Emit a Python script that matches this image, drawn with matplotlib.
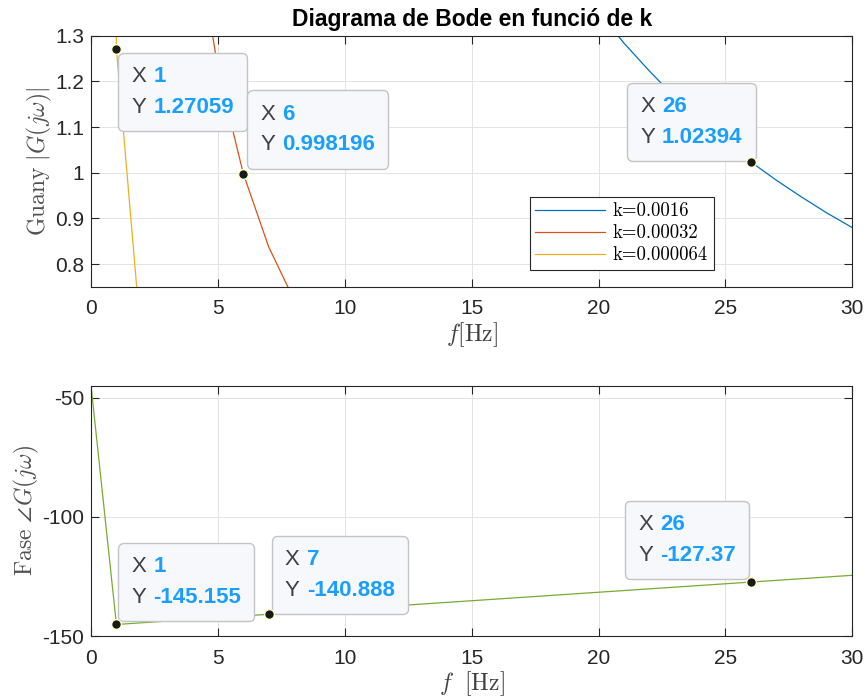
import numpy as np
import matplotlib
matplotlib.use("Agg")
import matplotlib.pyplot as plt
from matplotlib.offsetbox import TextArea, HPacker, VPacker, AnnotationBbox

plt.rcParams['font.family'] = ['Liberation Sans', 'DejaVu Sans']
plt.rcParams['mathtext.fontset'] = 'cm'
plt.rcParams['axes.unicode_minus'] = False

# gain curves
f_k1 = [20, 21, 22, 23, 24, 25, 26, 27, 28, 29, 30]
g_k1 = [1.352, 1.284, 1.223, 1.166, 1.115, 1.067, 1.02394, 0.984, 0.947, 0.912, 0.880]
f_k2 = [4, 5, 6, 7, 8]
g_k2 = [1.58, 1.227, 0.998196, 0.838, 0.722]
f_k3 = [0, 1, 2]
g_k3 = [40.0, 1.27059, 0.62]
labels = ["k=0.0016", "k=0.00032", "k=0.000064"]

# phase curve
f_ph = list(range(0, 31))
phase = [-45.0, -145.155, -144.44, -143.73, -143.02, -142.31, -141.60, -140.888,
         -140.18, -139.47, -138.76, -138.05, -137.33, -136.62, -135.91, -135.20,
         -134.49, -133.78, -133.07, -132.35, -131.64, -130.93, -130.22, -129.51,
         -128.80, -128.08, -127.37, -126.66, -125.95, -125.24, -124.53]

# datatips
tips_gain = [(1, 1.27059, "1", "1.27059"), (6, 0.998196, "6", "0.998196"),
             (26, 1.02394, "26", "1.02394")]
tips_phase = [(1, -145.155, "1", "-145.155"), (7, -140.888, "7", "-140.888"),
              (26, -127.37, "26", "-127.37")]

TXT = '#262626'
GRID = '#e3e3e3'


def style_axes(ax):
    ax.grid(True, color=GRID, linewidth=0.7)
    ax.set_axisbelow(True)
    ax.tick_params(direction='in', top=True, right=True, labelsize=15,
                   colors=TXT, length=6, width=0.8)
    ax.tick_params(axis='x', pad=9)
    ax.tick_params(axis='y', pad=5)
    for s in ax.spines.values():
        s.set_color(TXT)
        s.set_linewidth(0.8)


def datatip(ax, x, y, xs, ys, offset, align):
    rows = []
    for name, val in [("X", xs), ("Y", ys)]:
        a = TextArea(name, textprops=dict(color='#404040', fontsize=16))
        b = TextArea(val, textprops=dict(color='#1a9fff', fontsize=16, fontweight='bold'))
        rows.append(HPacker(children=[a, b], pad=0, sep=5, align='baseline'))
    box = VPacker(children=rows, pad=9.5, sep=7, align='left')
    ab = AnnotationBbox(box, (x, y), xybox=offset, boxcoords='offset points',
                        box_alignment=align, frameon=True, pad=0,
                        bboxprops=dict(boxstyle='round,pad=0,rounding_size=0.4',
                                       facecolor='#f7f8fc', edgecolor='#c4c4c4',
                                       linewidth=1.0))
    ax.add_artist(ab)
    ax.plot(x, y, 'o', color='#1a1a1a', markersize=7, mec='#ffffc8', mew=1.0, zorder=5)


fig = plt.figure(figsize=(8.67, 7.0), dpi=100)
ax1 = fig.add_axes([0.105, 0.59, 0.878, 0.359])
ax2 = fig.add_axes([0.105, 0.0914, 0.878, 0.3576])

ax1.plot(f_k1, g_k1, color='#0072BD', lw=0.9, label=labels[0])
ax1.plot(f_k2, g_k2, color='#D95319', lw=0.9, label=labels[1])
ax1.plot(f_k3, g_k3, color='#EDB120', lw=0.9, label=labels[2])
ax1.set_xlim(0, 30)
ax1.set_ylim(0.75, 1.3)
ax1.set_xticks(range(0, 31, 5))
ax1.set_yticks([0.8, 0.9, 1.0, 1.1, 1.2, 1.3])
ax1.set_yticklabels(["0.8", "0.9", "1", "1.1", "1.2", "1.3"])
style_axes(ax1)
ax1.set_title("Diagrama de Bode en funció de k", fontsize=16.5, fontweight='bold',
              color='black', pad=7)
ax1.set_xlabel(r"$f[\mathrm{Hz}]$", fontsize=17, color='#404040', labelpad=1)
ax1.set_ylabel(r"$\mathrm{Guany}\ |G(j\omega)|$", fontsize=17, color='#505050', labelpad=1)
leg = ax1.legend(loc='lower left', bbox_to_anchor=(0.576, 0.068),
                 prop={'family': 'cmr10', 'size': 13.5}, fancybox=False,
                 framealpha=1, edgecolor='#262626', borderpad=0.3,
                 handlelength=3.7, handletextpad=0.45, labelspacing=0.22,
                 borderaxespad=0)
leg.get_frame().set_linewidth(0.8)

datatip(ax1, *tips_gain[0], offset=(1.4, -2.9), align=(0, 1))
datatip(ax1, *tips_gain[1], offset=(2.9, 3.6), align=(0, 0))
datatip(ax1, *tips_gain[2], offset=(3.6, 0.7), align=(1, 0))

ax2.plot(f_ph, phase, color='#77AC30', lw=0.9)
ax2.set_xlim(0, 30)
ax2.set_ylim(-150, -45)
ax2.set_xticks(range(0, 31, 5))
ax2.set_yticks([-150, -100, -50])
style_axes(ax2)
ax2.set_xlabel(r"$f\ \ [\mathrm{Hz}]$", fontsize=17, color='#404040', labelpad=1)
ax2.set_ylabel(r"$\mathrm{Fase}\ \angle G(j\omega)$", fontsize=17, color='#505050', labelpad=1)

datatip(ax2, *tips_phase[0], offset=(1.4, 2.2), align=(0, 0))
datatip(ax2, *tips_phase[1], offset=(2.2, 0), align=(0, 0))
datatip(ax2, *tips_phase[2], offset=(-1.4, 2.2), align=(1, 0))

fig.savefig("out.png", dpi=100, facecolor='white')
